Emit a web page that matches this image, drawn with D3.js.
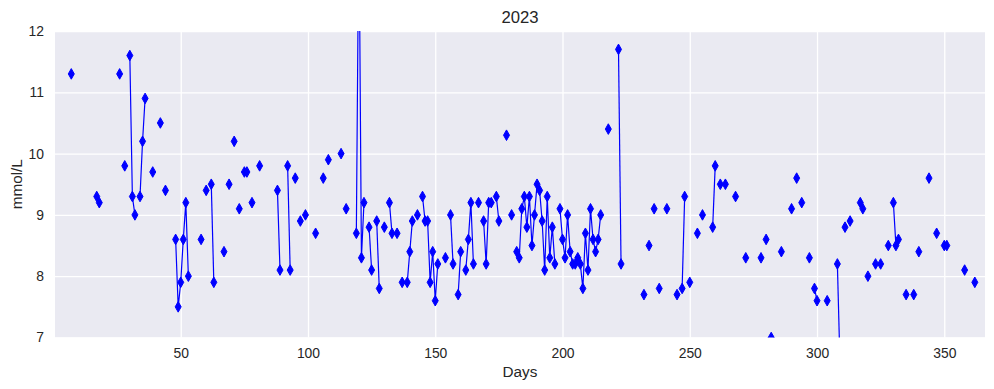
<!DOCTYPE html>
<html>
<head>
<meta charset="utf-8">
<script src="https://cdn.jsdelivr.net/npm/d3@7"></script>
<style>
body { margin: 0; background: #fff; }
text { font-family: "Liberation Sans", Arial, sans-serif; fill: #262626; }
</style>
</head>
<body>
<div id="chart"></div>
<script>
// day of year and reading (mmol/L)
var days = [7, 17, 18, 26, 28, 30, 31, 32, 34, 35, 36, 39, 42, 44, 48, 49, 50, 51, 52, 53,
  58, 60, 62, 63, 67, 69, 71, 73, 75, 76, 78, 81, 88, 89, 92, 93, 95, 97, 99, 103,
  106, 108, 113, 115, 119, 120, 121, 122, 124, 125, 127, 128, 130, 132, 133, 135, 137, 139, 140, 141,
  143, 145, 146, 147, 148, 149, 150, 151, 154, 156, 157, 159, 160, 162, 163, 164, 165, 167, 169, 170,
  171, 172, 174, 175, 178, 180, 182, 183, 184, 185, 186, 187, 188, 189, 190, 191, 192, 193, 194, 195,
  196, 197, 199, 200, 201, 202, 203, 204, 205, 206, 207, 208, 209, 210, 211, 212, 213, 214, 215, 218,
  222, 223, 232, 234, 236, 238, 241, 245, 247, 248, 250, 253, 255, 259, 260, 262, 264, 268, 272, 278,
  280, 282, 286, 290, 292, 294, 297, 299, 300, 304, 308, 309, 311, 313, 317, 318, 320, 323, 325, 328,
  330, 331, 332, 335, 338, 340, 344, 347, 350, 351, 358, 362];
var glucose = [11.3, 9.3, 9.2, 11.3, 9.8, 11.6, 9.3, 9.0, 9.3, 10.2, 10.9, 9.7, 10.5, 9.4, 8.6, 7.5, 7.9, 8.6, 9.2, 8.0,
  8.6, 9.4, 9.5, 7.9, 8.4, 9.5, 10.2, 9.1, 9.7, 9.7, 9.2, 9.8, 9.4, 8.1, 9.8, 8.1, 9.6, 8.9, 9.0, 8.7,
  9.6, 9.9, 10.0, 9.1, 8.7, 14.0, 8.3, 9.2, 8.8, 8.1, 8.9, 7.8, 8.8, 9.2, 8.7, 8.7, 7.9, 7.9, 8.4, 8.9,
  9.0, 9.3, 8.9, 8.9, 7.9, 8.4, 7.6, 8.2, 8.3, 9.0, 8.2, 7.7, 8.4, 8.1, 8.6, 9.2, 8.2, 9.2, 8.9, 8.2,
  9.2, 9.2, 9.3, 8.9, 10.3, 9.0, 8.4, 8.3, 9.1, 9.3, 8.8, 9.3, 8.5, 9.0, 9.5, 9.4, 8.9, 8.1, 9.3, 8.3,
  8.8, 8.2, 9.1, 8.6, 8.3, 9.0, 8.4, 8.2, 8.2, 8.3, 8.2, 7.8, 8.7, 8.1, 9.1, 8.6, 8.4, 8.6, 9.0, 10.4,
  11.7, 8.2, 7.7, 8.5, 9.1, 7.8, 9.1, 7.7, 7.8, 9.3, 7.9, 8.7, 9.0, 8.8, 9.8, 9.5, 9.5, 9.3, 8.3, 8.3,
  8.6, 7.0, 8.4, 9.1, 9.6, 9.2, 8.3, 7.8, 7.6, 7.6, 8.2, 6.6, 8.8, 8.9, 9.2, 9.1, 8.0, 8.2, 8.2, 8.5,
  9.2, 8.5, 8.6, 7.7, 7.7, 8.4, 9.6, 8.7, 8.5, 8.5, 8.1, 7.9];

var xTicks = [50, 100, 150, 200, 250, 300, 350];
var yTicks = [7, 8, 9, 10, 11, 12];

var width = 994, height = 389;
var margin = {top: 31, right: 9, bottom: 51.5, left: 55};
var innerW = width - margin.left - margin.right,
    innerH = height - margin.top - margin.bottom;

var svg = d3.select("#chart").append("svg")
    .attr("width", width)
    .attr("height", height);

var g = svg.append("g")
    .attr("transform", "translate(" + margin.left + "," + margin.top + ")");

var x = d3.scaleLinear().domain([0.6, 366]).range([0, innerW]);
var y = d3.scaleLinear().domain([7, 12]).range([innerH, 0]);

// background
g.append("rect")
    .attr("width", innerW)
    .attr("height", innerH)
    .attr("fill", "#eaeaf2");

// axes with grid
var xAxis = g.append("g")
    .attr("transform", "translate(0," + innerH + ")")
    .call(d3.axisBottom(x).tickValues(xTicks).tickFormat(d3.format("d"))
      .tickSize(-innerH).tickPadding(10.5));
var yAxis = g.append("g")
    .call(d3.axisLeft(y).tickValues(yTicks).tickFormat(d3.format("d"))
      .tickSize(-innerW).tickPadding(11));

[xAxis, yAxis].forEach(function(a) {
  a.select(".domain").remove();
  a.selectAll(".tick line").attr("stroke", "#fff").attr("stroke-width", 1.3);
  a.selectAll(".tick text").style("font-size", "13.9px").attr("fill", "#262626");
});

// data
var points = days.map(function(d, i) { return {day: d, val: glucose[i]}; });

// runs of consecutive days get joined by a line
var runs = [];
points.forEach(function(p, i) {
  if (i > 0 && p.day - points[i - 1].day === 1) runs[runs.length - 1].push(p);
  else runs.push([p]);
});

svg.append("defs").append("clipPath").attr("id", "plotclip")
  .append("rect").attr("width", innerW).attr("height", innerH);

var plot = g.append("g").attr("clip-path", "url(#plotclip)");

var line = d3.line()
    .x(function(d) { return x(d.day); })
    .y(function(d) { return y(d.val); });

plot.selectAll(".run")
    .data(runs.filter(function(r) { return r.length > 1; }))
    .enter().append("path")
    .attr("class", "run")
    .attr("d", line)
    .attr("fill", "none")
    .attr("stroke", "#0000ff")
    .attr("stroke-width", 1.2);

plot.selectAll(".mark")
    .data(points)
    .enter().append("path")
    .attr("class", "mark")
    .attr("d", "M0,-5.3L3,0L0,5.3L-3,0Z")
    .attr("transform", function(d) { return "translate(" + x(d.day) + "," + y(d.val) + ")"; })
    .attr("fill", "#0000ff")
    .attr("stroke", "#0000ff")
    .attr("stroke-width", 1);

// labels
svg.append("text")
    .attr("x", margin.left + innerW / 2)
    .attr("y", 23)
    .attr("text-anchor", "middle")
    .style("font-size", "16.7px")
    .text("2023");

svg.append("text")
    .attr("x", margin.left + innerW / 2)
    .attr("y", 377)
    .attr("text-anchor", "middle")
    .style("font-size", "15.3px")
    .text("Days");

svg.append("text")
    .attr("transform", "translate(22," + (margin.top + innerH / 2) + ") rotate(-90)")
    .attr("text-anchor", "middle")
    .style("font-size", "15.3px")
    .text("mmol/L");
</script>
</body>
</html>
